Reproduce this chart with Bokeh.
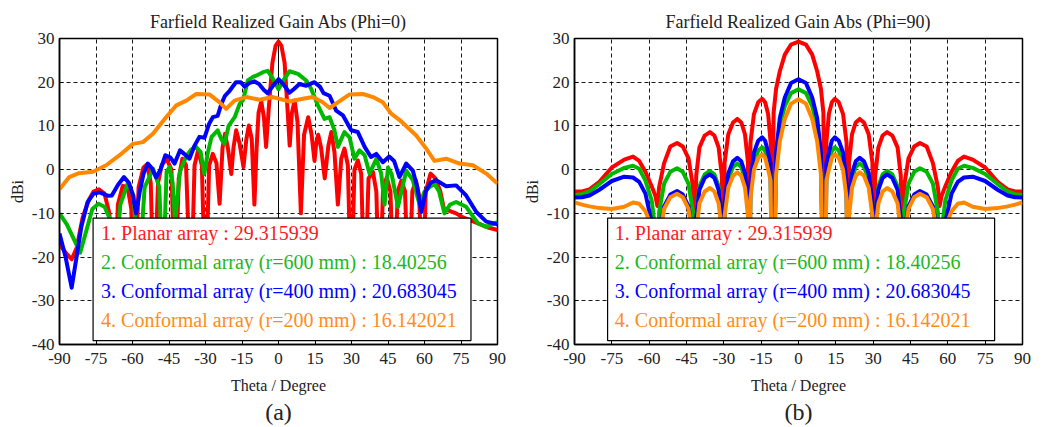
from bokeh.plotting import figure
from bokeh.layouts import row
from bokeh.models import Range1d, FixedTicker, Span, BoxAnnotation, Label, Title
from bokeh.embed import file_html
from bokeh.resources import INLINE

# ---------------- data ----------------
x_ticks = [-90, -75, -60, -45, -30, -15, 0, 15, 30, 45, 60, 75, 90]
y_ticks = [-40, -30, -20, -10, 0, 10, 20, 30]

series_names = ["1. Planar array : 29.315939",
                "2. Conformal array (r=600 mm) : 18.40256",
                "3. Conformal array (r=400 mm) : 20.683045",
                "4. Conformal array (r=200 mm) : 16.142021"]
line_colors = ["#ff0000", "#00b800", "#0000ff", "#ff8800"]
text_colors = ["#ff1a1a", "#1cb81c", "#0000ff", "#ff8c1a"]

# Panel (a): Phi = 0
theta_a_planar = [-90, -87.5, -85, -83, -80.5, -78, -76, -73.8, -71.5, -69.5,
                  -67.5, -66, -64, -62, -60.5, -59.2, -57.5, -55.5, -54, -52.5,
                  -51.2, -49.5, -48, -46, -44, -42.5, -41, -39.5, -38, -36,
                  -34.5, -33, -31.5, -30, -28.5, -27, -25.5, -24.2, -23, -22,
                  -20.8, -19.4, -18.5, -17.4, -16, -14.4, -13.2, -12.2, -11, -9.9,
                  -9, -8.2, -7.1, -6, -5.1, -4, -2.5, -1.2, 0, 1.2,
                  2.5, 3.8, 4.6, 5.5, 6.6, 7.8, 9.2, 10.5, 12.2, 13.6,
                  14.8, 15.5, 16.3, 17.5, 19, 20.5, 21.7, 23, 24.4, 25.8,
                  27.1, 28.5, 29.9, 31.2, 32.6, 34, 35.4, 37, 38.8, 40.2,
                  41.5, 43, 44.5, 46, 47.5, 49, 50.5, 52, 53.5, 55,
                  56.5, 57.8, 59.3, 60.5, 62.5, 64.5, 66.5, 68, 70.5, 73,
                  76, 79, 83, 86.5, 90]
gain_a_planar = [-17, -19, -20.5, -18, -11, -7, -5, -4.5, -5.5, -10,
                 -30, -8, -3.7, -4, -9, -30, -4, 0.5, 1.2, -3,
                 -30, -3, 1, 2.5, 0, -30, -2, 2.5, 1, -30,
                 1, 4.5, 1, -30, 1, 3.6, 1.5, -7.8, 5, 8.2,
                 5, -1, 5, 9, 6, 0.6, 7, 10.1, 7, -8,
                 5, 13, 15.6, 12, 5.2, 14, 24.5, 28.3, 29.3, 28.3,
                 24.5, 13, 5.5, 13, 15.8, 11, -10, 8, 12, 8,
                 2, 6, 8, 5, -2, 5.5, 8.6, 4, -8, 2.5,
                 4.8, 1, -30, 0, 2.1, -1, -30, -2, -0.5, -5,
                 -30, -4, -1.8, -5, -30, -5, -2.5, -5, -30, -5,
                 -2.5, -6, -30, -5, -0.9, -2, -5, -9, -9.5, -10,
                 -11, -11.6, -12.5, -13.3, -13.8]

theta_a_r600 = [-90, -87, -84, -81.5, -79, -76.5, -74, -71.5, -69.5, -67.4,
                -65, -62, -59.5, -57.5, -55, -51.5, -49, -47.5, -46, -44.8,
                -43.5, -42.5, -40.5, -38, -36, -34, -32, -30.5, -29, -27.5,
                -25, -23.5, -22.2, -20.5, -18, -16, -14.5, -12.6, -10.5, -9.2,
                -6.4, -4.4, -2.5, 0, 2, 4.5, 8, 11.4, 13.4, 16.2,
                18.9, 21, 23, 24.4, 27.1, 29.2, 31.2, 33.3, 35.4, 37.4,
                40.2, 42.2, 43.6, 45, 46.5, 49.1, 52.5, 55.2, 58, 60,
                62.1, 64.1, 66, 68.2, 70.5, 73, 77.1, 82, 85.4, 90]
gain_a_r600 = [-10, -12.5, -16, -19, -14, -9, -7.8, -8.5, -11, -25,
               -8, -3.2, -6, -25, -4, 0.2, -4, -25, -0.5, 0.6,
               -3, -12, -0.5, 3, 4.5, 5.3, 4, -1, 4, 7.5,
               9, 7, 5.9, 10, 12, 15, 16, 20.4, 21.2, 21.5,
               22.3, 22.6, 21, 18.4, 20.4, 22.5, 21.9, 20.4, 18.5, 14.7,
               11.6, 12, 9, 5.2, 8.6, 7.4, 2.5, 4.4, 3.3, -0.9,
               2.5, -0.9, -8, 0.5, -1, -8.5, -0.2, -2.4, -8, -5,
               -4, -3.2, -5, -10, -8, -7.4, -8.5, -12.3, -13.1, -12]

theta_a_r400 = [-90, -87.5, -85, -83, -81, -78.5, -76, -73.5, -70, -68.5,
                -66, -63.5, -61.5, -60, -58.5, -57, -55.5, -53.7, -52, -50.3,
                -48.5, -46.5, -44.5, -42.7, -40.5, -38.5, -36.6, -34.5, -32.5, -30.4,
                -28.5, -27, -25, -23.5, -22, -20, -17.5, -15.5, -14, -12,
                -10, -8, -6, -4.5, -2.5, 0, 2, 4.5, 6.5, 8.6,
                11.4, 14.8, 17, 18.5, 21, 23.7, 26.5, 29.9, 32.6, 35.4,
                38, 40.2, 42.9, 45.5, 47.5, 49.7, 52.5, 55.2, 57, 58.7,
                60.5, 62.5, 64.8, 68.9, 73, 77.1, 81.3, 85.4, 90]
gain_a_r400 = [-14.6, -20, -27, -20, -13, -7.5, -5.5, -5.2, -6, -5.9,
               -3.5, -1.7, -3, -5.5, -10, -5, -1, 1.4, 0.3, -1.8,
               0, 3.3, 2.8, 1.4, 4.4, 3.5, 2.5, 5.5, 7.5, 7.3,
               10.5, 12, 12.3, 15, 16.9, 18.1, 20, 20, 19, 19.8,
               20.2, 19.6, 18.2, 17.5, 19, 20.7, 19.5, 17.6, 18.5, 19.6,
               19.2, 20, 19, 17.5, 16.9, 13.5, 12.4, 9, 8.6, 5.2,
               2.9, 3.6, 1.7, 3, 2, -1.7, 1.4, -0.2, -4, -9.7,
               -5, -3, -2.4, -3.8, -3.6, -5.9, -9.7, -11.9, -12.5]

theta_a_r200 = [-90, -86, -82, -76.3, -70.8, -65.3, -59.8, -55.7, -51.6, -46.2,
                -42, -37.9, -33.8, -28.4, -24.2, -21.5, -18.1, -13.3, -7.8, -2.3,
                4.5, 10, 14.1, 18.2, 21, 24.4, 29.2, 34.7, 38.8, 42.9,
                46.3, 49.7, 56.6, 60.7, 64.1, 68.9, 74.4, 79.9, 85.4, 90]
gain_a_r200 = [-4.5, -1.7, -0.8, -0.5, 1, 3.3, 5.9, 6.3, 8.2, 12,
               14.7, 15.8, 17.3, 17.2, 15.4, 13.9, 15.8, 16.6, 16, 16.6,
               15.6, 16.2, 16.6, 15.4, 14.1, 15.4, 17.2, 17.3, 16.6, 15.4,
               12.8, 11.4, 7.8, 4.8, 2, 2.5, 1.4, 1, -0.9, -3.2]

# Panel (b): Phi = 90 (shared angle samples)
theta_b = [-90, -87, -84, -80, -75, -70, -66.5, -64, -61.5, -59,
           -57.5, -56.7, -56, -54, -51.5, -48.8, -46.5, -44.2, -42.4, -41.7,
           -41.1, -39.8, -37.7, -35.6, -33.8, -32.1, -30.8, -30.2, -29.7, -28.2,
           -26.3, -24.6, -23, -21.5, -20.3, -19.8, -19.3, -17.9, -16.2, -14.6,
           -13.4, -12.2, -11.2, -10.7, -10, -9, -7.5, -5.5, -3,
           0,
           3, 5.5, 7.5, 9, 10, 10.7, 11.2, 12.2, 13.4, 14.6,
           16.2, 17.9, 19.3, 19.8, 20.3, 21.5, 23, 24.6, 26.3, 28.2,
           29.7, 30.2, 30.8, 32.1, 33.8, 35.6, 37.7, 39.8, 41.1, 41.7,
           42.4, 44.2, 46.5, 48.8, 51.5, 54, 56, 56.7, 57.5, 59,
           61.5, 64, 66.5, 70, 75, 80, 84, 87, 90]
gain_b_planar = [-5, -5, -4.5, -2.8, 0.5, 2.3, 3, 2, -0.5, -3.8,
                 -6, -8.3, -4, 1.5, 5.3, 6.1, 5.3, 2.6, -3.9, -30,
                 -1.4, 5.1, 7.8, 8.6, 7.8, 5.1, -1.4, -30, 1.6, 8.1,
                 10.8, 11.6, 10.8, 8.1, 1.6, -30, 6.2, 12.7, 15.4, 16.2,
                 15.4, 12.7, 6.2, -30, 13, 18.5, 22.5, 26.3, 28.6,
                 29.3,
                 28.6, 26.3, 22.5, 18.5, 13, -30, 6.2, 12.7, 15.4, 16.2,
                 15.4, 12.7, 6.2, -30, 1.6, 8.1, 10.8, 11.6, 10.8, 8.1,
                 1.6, -30, -1.4, 5.1, 7.8, 8.6, 7.8, 5.1, -1.4, -30,
                 -3.9, 2.6, 5.3, 6.1, 5.3, 1.5, -4, -8.3, -6, -3.8,
                 -0.5, 2, 3, 2.3, 0.5, -2.8, -4.5, -5, -5]
gain_b_r600 = [-5.8, -5.6, -5, -3.3, -1, 0.4, 0.9, 0.2, -2.5, -7,
               -14, -30, -9.7, -3.2, -0.5, 0.3, -0.5, -3.2, -9.7, -30,
               -10.3, -3.8, -1.1, -0.3, -1.1, -3.8, -10.3, -30, -8.6, -2.1,
               0.6, 1.4, 0.6, -2.1, -8.6, -30, -4.9, 1.6, 4.3, 5.1,
               4.3, 1.6, -1, -30, -30, 3, 10.2, 14.5, 17.5,
               18.4,
               17.5, 14.5, 10.2, 3, -30, -30, -1, 1.6, 4.3, 5.1,
               4.3, 1.6, -4.9, -30, -8.6, -2.1, 0.6, 1.4, 0.6, -2.1,
               -8.6, -30, -10.3, -3.8, -1.1, -0.3, -1.1, -3.8, -10.3, -30,
               -9.7, -3.2, -0.5, 0.3, -0.5, -3.2, -9.7, -30, -14, -7,
               -2.5, 0.2, 0.9, 0.4, -1, -3.3, -5, -5.6, -5.8]
gain_b_r400 = [-6.4, -6.3, -5.9, -4.6, -2.6, -1.6, -1.8, -2.8, -5.5, -12,
               -20, -30, -14.9, -8.4, -5.7, -4.9, -5.7, -8.4, -14.9, -30,
               -11.1, -4.6, -1.9, -1.1, -1.9, -4.6, -11.1, -30, -7.3, -0.8,
               1.9, 2.7, 1.9, -0.8, -7.3, -30, -2.6, 3.9, 6.6, 7.4,
               6.6, 3.9, 1.4, -30, -30, 4, 11.8, 16.5, 19.8,
               20.7,
               19.8, 16.5, 11.8, 4, -30, -30, 1.4, 3.9, 6.6, 7.4,
               6.6, 3.9, -2.6, -30, -7.3, -0.8, 1.9, 2.7, 1.9, -0.8,
               -7.3, -30, -11.1, -4.6, -1.9, -1.1, -1.9, -4.6, -11.1, -30,
               -14.9, -8.4, -5.7, -4.9, -5.7, -8.4, -14.9, -30, -20, -12,
               -5.5, -2.8, -1.8, -1.6, -2.6, -4.6, -5.9, -6.3, -6.4]
gain_b_r200 = [-7.5, -8, -8.4, -8.8, -9, -8.5, -7.5, -7.8, -9.5, -13,
               -20, -30, -15.5, -9, -6.3, -5.5, -6.3, -9, -15.5, -30,
               -14.2, -7.7, -5, -4.2, -5, -7.7, -14.2, -30, -10.6, -4.1,
               -1.4, -0.6, -1.4, -4.1, -10.6, -30, -6.5, 0, 2.7, 3.5,
               2.7, 0, -2.5, -30, -30, -1, 6.5, 11.6, 15.1,
               16.1,
               15.1, 11.6, 6.5, -1, -30, -30, -2.5, 0, 2.7, 3.5,
               2.7, 0, -6.5, -30, -10.6, -4.1, -1.4, -0.6, -1.4, -4.1,
               -10.6, -30, -14.2, -7.7, -5, -4.2, -5, -7.7, -14.2, -30,
               -15.5, -9, -6.3, -5.5, -6.3, -9, -15.5, -30, -20, -13,
               -9.5, -7.8, -7.5, -8.5, -9, -8.8, -8.4, -8, -7.5]

FONT = "Liberation Serif"
INK = "#222222"


def make_panel(title, curves, width, border_left, border_right, letter,
               box, text_x):
    p = figure(width=width, height=427, output_backend="svg",
               toolbar_location=None,
               x_range=Range1d(-90, 90), y_range=Range1d(-40, 30),
               min_border_left=border_left, min_border_right=border_right,
               min_border_top=38, min_border_bottom=83)
    p.title.text = title
    p.title.align = "center"
    p.title.text_font = FONT
    p.title.text_font_size = "18px"
    p.title.text_font_style = "normal"
    p.title.text_color = INK
    p.title.standoff = 14

    p.xaxis.ticker = FixedTicker(ticks=x_ticks)
    p.yaxis.ticker = FixedTicker(ticks=y_ticks)
    p.xaxis.major_label_overrides = {t: str(t) for t in x_ticks}
    p.yaxis.major_label_overrides = {t: str(t) for t in y_ticks}
    p.xaxis.axis_label = "Theta / Degree"
    p.yaxis.axis_label = "dBi"
    for ax in (p.xaxis[0], p.yaxis[0]):
        ax.major_label_text_font = FONT
        ax.major_label_text_font_size = "17px"
        ax.major_label_text_color = INK
        ax.axis_label_text_font = FONT
        ax.axis_label_text_font_size = "16px"
        ax.axis_label_text_font_style = "normal"
        ax.axis_label_text_color = INK
        ax.major_tick_in = 4
        ax.major_tick_out = 0
        ax.minor_tick_line_color = None
        ax.axis_line_color = "black"
        ax.axis_line_width = 1.5
        ax.major_tick_line_color = "black"
    p.xaxis.major_label_standoff = 8
    p.yaxis.major_label_standoff = 5
    p.xaxis.axis_label_standoff = 10
    p.yaxis.axis_label_standoff = 3

    for g in (p.xgrid[0], p.ygrid[0]):
        g.grid_line_color = "black"
        g.grid_line_dash = "4 3"
        g.grid_line_width = 1
        g.grid_line_alpha = 0.9
    p.outline_line_color = "black"
    p.outline_line_width = 1.5
    p.outline_line_alpha = 1.0

    p.add_layout(Span(location=0, dimension="height", line_color="black",
                      line_width=1, level="underlay"))

    for (tx, gy), col in zip(curves, line_colors):
        p.line(tx, gy, line_color=col, line_width=4, line_join="round")

    left, right, bottom, top = box
    p.add_layout(BoxAnnotation(left=left, right=right, bottom=bottom, top=top,
                               fill_color="white", fill_alpha=1.0,
                               line_color="black", line_width=1.2,
                               line_alpha=1.0))
    ys = [-14.5, -21.1, -27.7, -34.3]
    for name, col, yy in zip(series_names, text_colors, ys):
        p.add_layout(Label(x=text_x, y=yy, text=name, text_color=col,
                           text_font=FONT, text_font_size="20px",
                           text_baseline="middle"))

    p.add_layout(Title(text=letter, align="center", text_font=FONT,
                       text_font_size="24px", text_font_style="normal",
                       text_color=INK, standoff=0), "below")
    return p


pa = make_panel("Farfield Realized Gain Abs (Phi=0)",
                [(theta_a_planar, gain_a_planar), (theta_a_r600, gain_a_r600),
                 (theta_a_r400, gain_a_r400), (theta_a_r200, gain_a_r200)],
                520, 59, 23, "(a)", (-76.2, 79.1, -39.1, -11.1), -72.9)
pb = make_panel("Farfield Realized Gain Abs (Phi=90)",
                [(theta_b, gain_b_planar), (theta_b, gain_b_r600),
                 (theta_b, gain_b_r400), (theta_b, gain_b_r200)],
                528, 48, 26, "(b)", (-76.7, 78.8, -39.1, -11.1), -73.8)

layout = row(pa, pb)
open("out.html", "w").write(file_html(layout, INLINE))
